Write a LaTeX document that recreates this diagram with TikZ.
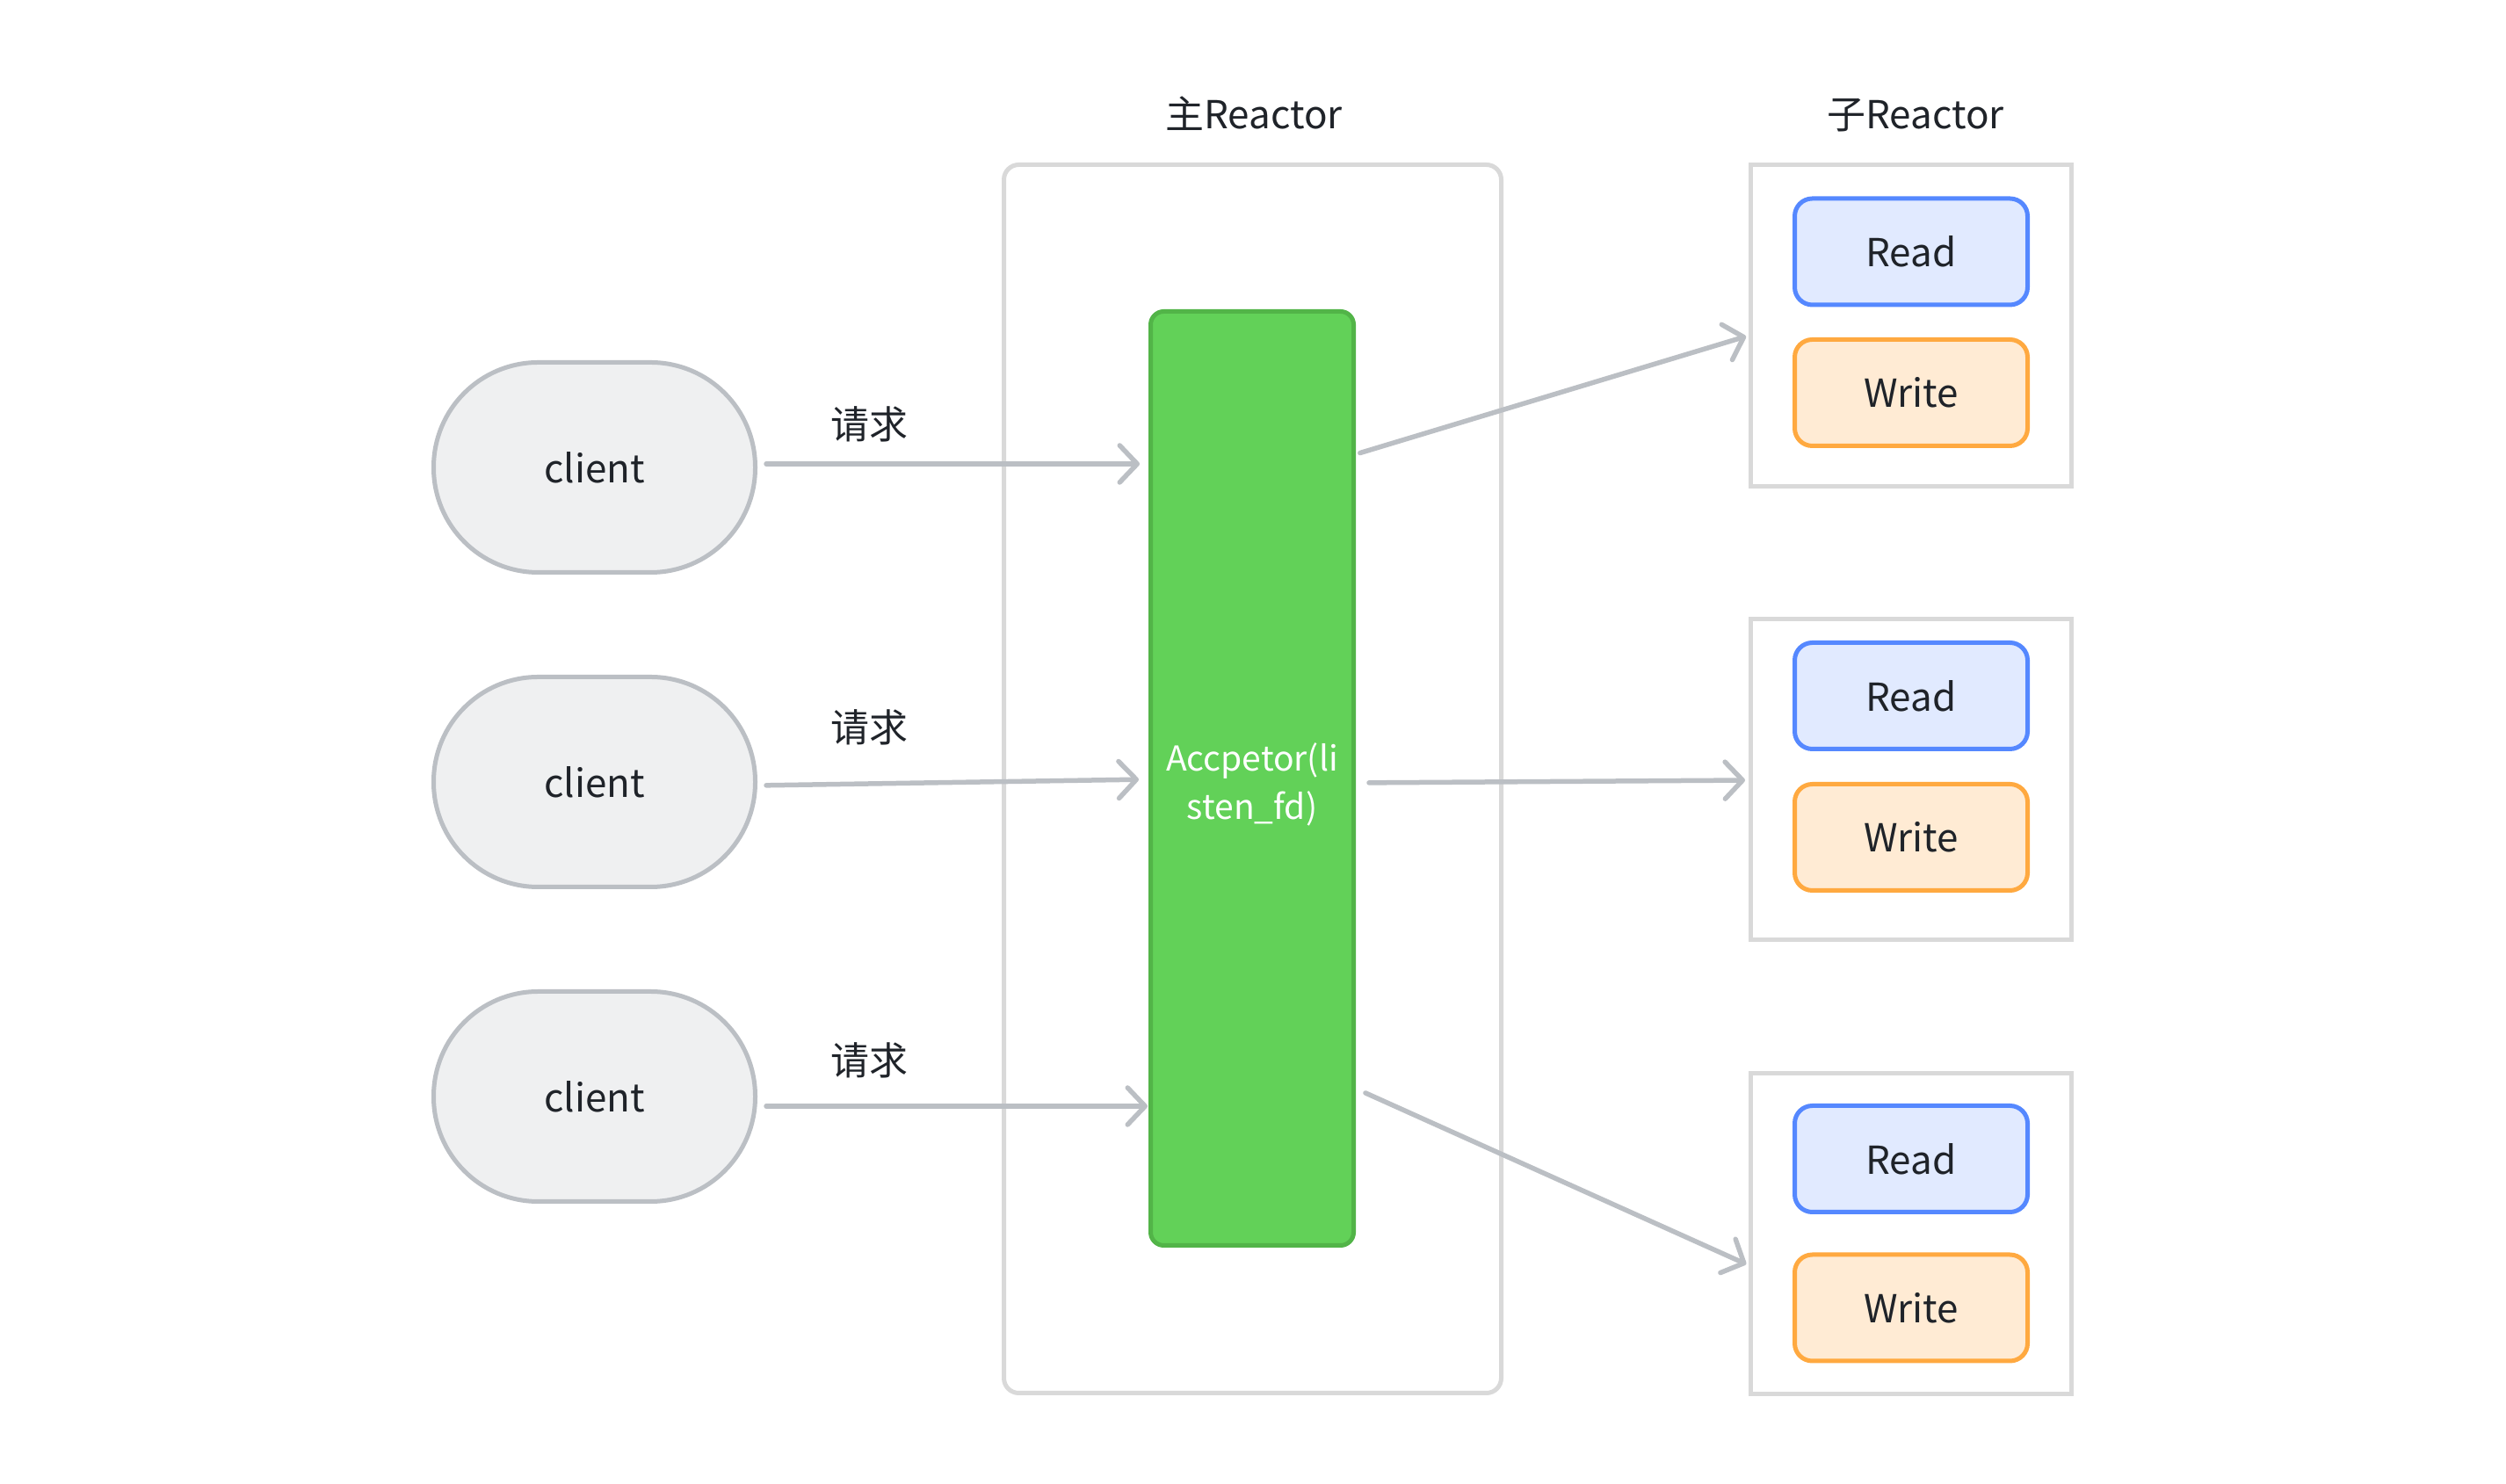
\documentclass[tikz,border=0pt]{standalone}
\usepackage{fontspec}
\setmainfont{Noto Sans CJK SC}
\usetikzlibrary{arrows.meta}
\definecolor{linkgray}{HTML}{BBBFC4}
\definecolor{framegray}{HTML}{D9D9D9}
\definecolor{clientfill}{HTML}{EFF0F1}
\definecolor{accfill}{HTML}{62D158}
\definecolor{accline}{HTML}{52B448}
\definecolor{readfill}{HTML}{E1EAFF}
\definecolor{readline}{HTML}{5588FF}
\definecolor{writefill}{HTML}{FFEBD4}
\definecolor{writeline}{HTML}{FFA940}
\definecolor{textdark}{HTML}{1F2329}

\begin{document}
\begin{tikzpicture}[
		font=\fontsize{12.5}{15}\selectfont, text=textdark,
		client/.style={draw=linkgray, fill=clientfill, line width=0.05cm, minimum width=3.66cm, minimum height=2.39cm, rounded corners=1.19cm, inner sep=0},
		frame/.style={draw=framegray, line width=0.05cm, inner sep=0},
		rwbox/.style={line width=0.05cm, minimum width=2.65cm, minimum height=1.21cm, rounded corners=0.2cm, inner sep=0},
		readbox/.style={rwbox, draw=readline, fill=readfill},
		writebox/.style={rwbox, draw=writeline, fill=writefill},
		link/.style={draw=linkgray, line width=0.055cm, line cap=round, -{Straight Barb[length=0.2cm, width=0.42cm, round]}}
	]
			\fill[white] (0,0) rectangle (28.52,16.89);
			\useasboundingbox (0,0) rectangle (28.52,16.89);
			% main reactor
			\node[frame, minimum width=5.66cm, minimum height=13.98cm, rounded corners=0.17cm] (mainbox) at (14.255,8.025) {};
			\node[anchor=base] (maintitle) at (14.27,15.42) {主Reactor};
			\node[draw=accline, fill=accfill, line width=0.05cm, minimum width=2.31cm, minimum height=10.63cm, rounded corners=0.15cm, inner sep=0] (acc) at (14.25,8.03) {};
			\node[text=white, align=center, font=\fontsize{11.1}{15.6}\selectfont] (acctext) at (14.25,7.96) {Accpetor(li\\sten\_fd)};
			% clients
			\node[client] (c1) at (6.765,11.57) {client};
			\node[client] (c2) at (6.765,7.99) {client};
			\node[client] (c3) at (6.765,4.41) {client};
			% sub reactors
			\node[anchor=base] (subtitle) at (21.80,15.42) {子Reactor};
			\node[frame, minimum width=3.65cm, minimum height=3.66cm] (sub1) at (21.75,13.185) {};
			\node[frame, minimum width=3.65cm, minimum height=3.65cm] (sub2) at (21.75,8.02) {};
			\node[frame, minimum width=3.65cm, minimum height=3.65cm] (sub3) at (21.75,2.85) {};
			\node[readbox] (r1) at (21.75,14.025) {Read};
			\node[writebox] (w1) at (21.75,12.42) {Write};
			\node[readbox] (r2) at (21.75,8.97) {Read};
			\node[writebox] (w2) at (21.75,7.36) {Write};
			\node[readbox] (r3) at (21.75,3.70) {Read};
			\node[writebox] (w3) at (21.75,2.005) {Write};
			% requests
			\draw[link, shorten <=0.1cm, shorten >=0.1cm] ([yshift=0.04cm]c1.east) -- ([yshift=0.04cm]c1.east -| acc.west);
			\draw[link, shorten <=0.1cm, shorten >=0.11cm] ([yshift=-0.04cm]c2.east) -- ([yshift=-0.01cm]acc.west);
			\draw[link, shorten <=0.1cm, shorten >=0.01cm] ([yshift=-0.11cm]c3.east) -- ([yshift=-0.11cm]c3.east -| acc.west);
			\node (q1) at (9.89,12.06) {请求};
			\node (q2) at (9.89,8.61) {请求};
			\node (q3) at (9.89,4.82) {请求};
			% dispatch
			\draw[link, shorten <=0.05cm, shorten >=0.03cm] ([yshift=3.69cm]acc.east) -- ([yshift=-0.115cm]sub1.west);
			\draw[link, shorten <=0.15cm, shorten >=0.04cm] ([yshift=-0.05cm]acc.east) -- ([yshift=-0.01cm]sub2.west);
			\draw[link, shorten <=0.12cm, shorten >=0.03cm] ([yshift=-3.53cm]acc.east) -- ([yshift=-0.36cm]sub3.west);
		\end{tikzpicture}
\end{document}
